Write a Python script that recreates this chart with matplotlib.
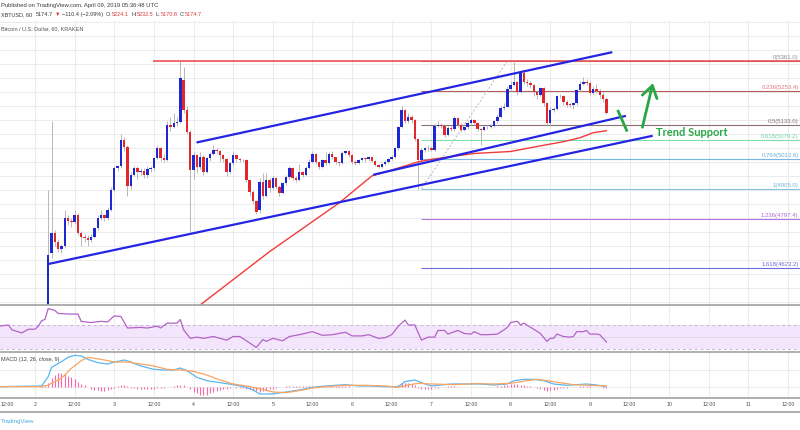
import matplotlib
matplotlib.use("Agg")
import matplotlib.pyplot as plt
import numpy as np
from matplotlib.lines import Line2D

# ---------------- data (hours counted from 2 Apr 2019 00:00 UTC) ----------------
candle_hours = list(range(4, 174))
opens = [4160, 4675, 4747, 4717, 4690, 4700, 4800, 4790, 4785, 4810,
         4747, 4735, 4730, 4723, 4735, 4764, 4800, 4810, 4800, 4830,
         4901, 4978, 4985, 5079, 5055, 4915, 4955, 4978, 4965, 4970,
         4955, 4975, 4978, 5014, 5050, 5014, 5008, 5133, 5125, 5140,
         5144, 5293, 5186, 5109, 4972, 5026, 4984, 5020, 4966, 5014,
         5028, 5044, 5038, 5026, 5010, 4966, 4996, 5026, 5010, 5008,
         5006, 4937, 4895, 4860, 4830, 4931, 4880, 4937, 4907, 4943,
         4913, 4889, 4925, 4948, 4978, 4943, 4937, 4966, 4954, 4978,
         5002, 5029, 5002, 4984, 5008, 4996, 5029, 5017, 5002, 4996,
         5034, 5038, 5026, 5002, 4998, 5008, 5014, 5010, 5017, 5005,
         4990, 4984, 4994, 5002, 5010, 5020, 5049, 5124, 5186, 5145,
         5162, 5150, 5082, 5006, 5044, 5049, 5052, 5044, 5129, 5133,
         5128, 5097, 5121, 5118, 5156, 5133, 5115, 5124, 5139, 5150,
         5139, 5117, 5115, 5124, 5127, 5129, 5145, 5162, 5192, 5198,
         5260, 5275, 5284, 5251, 5317, 5287, 5281, 5275, 5251, 5240,
         5263, 5210, 5139, 5186, 5188, 5234, 5236, 5216, 5204, 5203,
         5210, 5257, 5279, 5284, 5281, 5248, 5260, 5255, 5240, 5224.1]
highs = [4900, 5145, 4760, 4725, 4710, 4830, 4810, 4800, 4830, 4820,
         4755, 4745, 4740, 4745, 4770, 4810, 4830, 4815, 4840, 4910,
         4985, 4990, 5100, 5090, 5060, 4965, 4985, 4985, 4980, 4980,
         4985, 4988, 5020, 5060, 5055, 5030, 5145, 5160, 5175, 5160,
         5361, 5340, 5200, 5115, 5035, 5030, 5035, 5025, 5020, 5035,
         5060, 5050, 5045, 5030, 5015, 5000, 5040, 5030, 5015, 5012,
         5010, 4940, 4900, 4865, 4945, 4960, 4960, 4945, 4950, 4948,
         4918, 4930, 4955, 4985, 4982, 4950, 4995, 4970, 4985, 5010,
         5040, 5032, 5005, 5012, 5035, 5035, 5040, 5020, 5005, 5040,
         5045, 5042, 5030, 5006, 5012, 5020, 5018, 5022, 5020, 5008,
         4995, 4998, 5006, 5015, 5025, 5055, 5130, 5200, 5190, 5175,
         5168, 5155, 5085, 5050, 5055, 5060, 5058, 5135, 5145, 5140,
         5135, 5130, 5128, 5165, 5160, 5138, 5130, 5145, 5158, 5155,
         5142, 5122, 5130, 5132, 5135, 5150, 5170, 5200, 5210, 5270,
         5290, 5358, 5290, 5330, 5325, 5295, 5288, 5280, 5256, 5268,
         5268, 5215, 5195, 5195, 5240, 5242, 5240, 5220, 5210, 5215,
         5262, 5290, 5305, 5295, 5290, 5270, 5280, 5262, 5250, 5232.5]
lows = [4150, 4660, 4700, 4680, 4675, 4695, 4775, 4770, 4780, 4740,
        4700, 4715, 4700, 4715, 4730, 4760, 4795, 4790, 4795, 4825,
        4895, 4970, 4980, 5040, 4880, 4905, 4950, 4940, 4955, 4945,
        4945, 4965, 4972, 5010, 5005, 5000, 5005, 5110, 5120, 5130,
        5140, 5175, 5100, 4752, 4940, 4960, 4975, 4955, 4960, 5005,
        5025, 5030, 5000, 5000, 4950, 4960, 4990, 5000, 5000, 4999,
        4930, 4880, 4850, 4815, 4820, 4870, 4875, 4895, 4900, 4905,
        4880, 4885, 4920, 4940, 4935, 4930, 4932, 4948, 4950, 4975,
        4998, 4995, 4975, 4980, 4990, 4992, 5012, 4995, 4988, 4992,
        5030, 5020, 4995, 4990, 4995, 5004, 5002, 5005, 5000, 4985,
        4978, 4980, 4990, 4998, 5006, 5015, 5045, 5120, 5140, 5140,
        5140, 5075, 4905, 5000, 5035, 5040, 5038, 5040, 5125, 5120,
        5088, 5092, 5110, 5112, 5125, 5108, 5110, 5118, 5132, 5132,
        5110, 5060, 5110, 5118, 5120, 5125, 5140, 5158, 5185, 5195,
        5255, 5270, 5240, 5245, 5280, 5270, 5265, 5235, 5225, 5235,
        5200, 5130, 5130, 5180, 5185, 5228, 5205, 5198, 5195, 5190,
        5205, 5252, 5275, 5275, 5240, 5242, 5248, 5230, 5215, 5170.8]
closes = [4670, 4747, 4717, 4690, 4700, 4800, 4790, 4785, 4810, 4747,
          4735, 4730, 4723, 4735, 4764, 4800, 4810, 4800, 4830, 4901,
          4978, 4985, 5079, 5055, 4915, 4955, 4978, 4965, 4970, 4955,
          4975, 4978, 5014, 5050, 5014, 5008, 5133, 5125, 5140, 5144,
          5299, 5186, 5109, 4972, 5026, 4984, 5020, 4966, 5014, 5028,
          5044, 5038, 5026, 5010, 4966, 4996, 5026, 5010, 5008, 5006,
          4937, 4895, 4860, 4824, 4931, 4880, 4937, 4907, 4943, 4913,
          4889, 4925, 4948, 4978, 4943, 4937, 4966, 4954, 4978, 5002,
          5029, 5002, 4984, 5008, 4996, 5029, 5017, 5002, 4996, 5034,
          5038, 5026, 5002, 4998, 5008, 5014, 5010, 5017, 5005, 4990,
          4984, 4994, 5002, 5010, 5020, 5049, 5124, 5186, 5145, 5162,
          5150, 5082, 5006, 5044, 5049, 5052, 5044, 5129, 5133, 5128,
          5097, 5121, 5118, 5156, 5133, 5115, 5124, 5139, 5150, 5139,
          5117, 5115, 5124, 5127, 5129, 5145, 5162, 5192, 5198, 5260,
          5275, 5284, 5251, 5317, 5287, 5281, 5275, 5251, 5240, 5263,
          5210, 5139, 5186, 5188, 5234, 5236, 5216, 5204, 5203, 5210,
          5257, 5279, 5284, 5281, 5248, 5260, 5255, 5240, 5224.1, 5174.7]

ma_hours = [50, 71, 92, 102, 108, 116, 120, 133, 144, 153, 160, 165, 169, 173]
ma_values = [4491, 4681, 4854, 4951, 4972, 5001, 5010, 5031, 5038, 5058, 5073, 5087, 5105, 5112]

rsi_hours = [-11, -8, -7, -4, -2, 0, 1, 2, 3, 4, 6, 7, 10, 13, 14, 17, 20, 22, 24, 26,
             28, 32, 34, 37, 38, 40, 43, 44, 45, 47, 49, 51, 54, 58, 60, 62, 64, 67, 69, 70,
             72, 75, 77, 80, 84, 87, 90, 94, 96, 99, 101, 104, 106, 108, 110, 112, 113, 115, 117, 119,
             121, 122, 124, 125, 128, 130, 132, 133, 135, 137, 140, 142, 143, 144, 146, 147, 148, 151, 153, 155,
             156, 157, 158, 160, 162, 163, 164, 166, 167, 168, 170, 171, 173]
rsi_values = [68, 70, 62, 57, 63, 63, 68, 77, 79, 97, 94, 89, 88, 88, 76, 74, 76, 75, 85, 84,
              65, 66, 65, 68, 65, 73, 73, 79, 62, 48, 50, 48, 51, 45, 51, 51, 44, 33, 46, 43,
              48, 44, 51, 54, 59, 53, 54, 58, 52, 52, 54, 48, 49, 54, 68, 78, 70, 70, 45, 50,
              50, 61, 61, 55, 61, 56, 55, 59, 54, 54, 55, 62, 66, 74, 76, 70, 73, 63, 56, 43,
              48, 48, 55, 51, 50, 51, 59, 59, 61, 55, 55, 54, 42]

macd_hours = [-11, 2, 4, 5, 8, 10, 12, 14, 16, 19, 22, 24, 27, 29, 32, 36, 39, 42, 44, 46,
              49, 52, 56, 60, 64, 66, 68, 72, 76, 80, 84, 88, 94, 98, 102, 106, 110, 112, 115, 117,
              120, 126, 131, 135, 139, 143, 145, 148, 151, 154, 157, 161, 167, 170, 173]
macd_values = [0, 2, 30, 58, 75, 88, 94, 92, 82, 72, 68, 74, 80, 74, 62, 52, 50, 50, 56, 48,
               28, 18, 12, 6, -2, -10, -22, -22, -16, -10, -2, 2, 6, 2, 2, 0, 0, 15, 20, 12,
               2, 8, 8, 8, 5, 8, 18, 22, 22, 18, 8, 4, 8, 5, 0]
signal_hours = [-11, 2, 4, 8, 11, 14, 16, 20, 24, 28, 32, 36, 40, 44, 48, 52, 56, 60, 64, 68,
                72, 76, 80, 84, 88, 94, 100, 106, 110, 113, 116, 120, 127, 133, 139, 144, 149, 152, 155, 159,
                163, 168, 173]
signal_values = [0, 0, 5, 25, 55, 78, 88, 82, 74, 74, 68, 62, 52, 50, 46, 35, 20, 8, 2, -6,
                 -16, -18, -12, -4, 0, 4, 4, 2, -2, 5, 10, 8, 6, 9, 8, 10, 18, 22, 18, 12,
                 6, 4, 2]
hist_hours = list(range(-11, 174))
hist_values = [0, -1, -1, -1, 0, 0, 1, 0, -1, -1, 0, 0, 0, 1, 2,
               12, 25, 35, 40, 42, 38, 33, 28, 22, 15,
               9, 4, -2, -6, -9, -11, -12, -12, -11, -8,
               -4, 2, 5, 4, 1, -3, -5, -6, -6, -6,
               -6, -6, -6, -5, -4, -3, -2, 0, 2, 4,
               6, 4, 0, -8, -16, -20, -24, -25, -24, -20,
               -16, -13, -10, -8, -6, -4, -2, -3, -4, -5,
               -6, -8, -10, -14, -16, -14, -10, -8, -6, -4,
               -2, 0, 2, 3, 3, 3, 3, 3, 3, 3,
               2, 2, 2, 2, 2, 2, 2, 1, 1, 1,
               1, 1, 0, -1, -1, -1, -1, -1, -1, -1,
               -1, -1, -1, 0, 1, 3, 6, 10, 12, 11,
               9, 5, -3, -6, -8, -8, -7, -5, -3, -1,
               0, 1, 1, 1, 0, -1, -2, -2, -2, -2,
               -2, -2, -2, -2, -1, 0, 1, 2, 4, 6,
               8, 8, 7, 6, 5, 3, 1, -2, -5, -8,
               -10, -12, -11, -9, -7, -5, -4, -3, -2, -1,
               0, 1, 2, 2, 1, 0, -1, -2, -3, -5]

tick_hours = list(range(-12, 229, 12))
tick_labels = ["12:00", "2", "12:00", "3", "12:00", "4", "12:00", "5", "12:00", "6", "12:00",
               "7", "12:00", "8", "12:00", "9", "12:00", "10", "12:00", "11", "12:00"]

resistance_level = 5361
resistance_start = 35.7
channel_upper_h, channel_upper_p = [48.9, 174.8], [5070, 5392]
channel_lower_h, channel_lower_p = [102.4, 178.9], [4955, 5165]
support_h, support_p = [4.0, 187.0], [4637, 5094]
fib_low_h, fib_low = 117, 4905
fib_high_h, fib_high = 143, 5361
fib_levels = [0, 0.236, 0.5, 0.618, 0.764, 1, 1.236, 1.618]

last_close, change, change_pct = 5174.7, -110.4, -2.09
bar_open, bar_high, bar_low, bar_close = 5224.1, 5232.5, 5170.8, 5174.7

# ---------------- layout ----------------
FAM = ['Liberation Sans', 'DejaVu Sans']
plt.rcParams['font.family'] = FAM
W, H = 800, 430
fig = plt.figure(figsize=(W / 100, H / 100), dpi=100)
fig.patch.set_facecolor('white')

def rect(top, bottom):
    return [0, 1 - bottom / H, 1, (bottom - top) / H]

PX_PER_H = 79.27 / 24
X0 = 35.0
XLIM = (-X0 / PX_PER_H, (W - X0) / PX_PER_H)

def hx(px):
    return (px - X0) / PX_PER_H

ax = fig.add_axes(rect(21, 305))
ax_rsi = fig.add_axes(rect(305, 351.7))
ax_macd = fig.add_axes(rect(351.7, 398.3))
ax_time = fig.add_axes(rect(398.3, 411.7))
for a in (ax, ax_rsi, ax_macd, ax_time):
    a.set_xlim(XLIM)
    a.set_xticks([])
    a.set_yticks([])
    for s in a.spines.values():
        s.set_visible(False)

GRID = '#ececec'
for a in (ax, ax_rsi, ax_macd):
    for t in tick_hours:
        a.axvline(t, color=GRID, lw=0.75, zorder=0)

# ---------------- main price panel ----------------
ax.set_ylim(4491, 5503)
for p in range(4500, 5501, 50):
    ax.axhline(p, color=GRID, lw=0.75, zorder=0)

FIB_COLORS = ['#8c8c8c', '#b25d5d', '#8a7070', '#7fdcab', '#79b5e2', '#86c4e4', '#b374e2', '#6c6cd9']
FIB_TEXT = ['#8c8c8c', '#e07a7a', '#8a6a78', '#6fd6a0', '#6aaee0', '#6ab8e0', '#b06ad8', '#6c6cd9']
rng = fib_high - fib_low
lab_x = hx(798.5)
for lv, lc, tc in zip(fib_levels, FIB_COLORS, FIB_TEXT):
    price = fib_high - lv * rng
    ax.hlines(price, fib_low_h, XLIM[1], color=lc, lw=0.8, zorder=1)
    ax.annotate(f"{lv:g}({price:.1f})", xy=(lab_x, price), xytext=(0, 0.6),
                textcoords='offset points', ha='right', va='bottom', fontsize=4.3, color=tc,
                annotation_clip=False)
ax.plot([fib_low_h, fib_high_h], [fib_low, fib_high], color='#b4b4b4', lw=0.7,
        ls=(0, (2, 2)), zorder=1)

ax.hlines(resistance_level, resistance_start, XLIM[1], color='#ef5050', lw=1.2, zorder=4)

x = np.array(candle_hours)
o = np.array(opens); c = np.array(closes)
hi = np.array(highs); lo = np.array(lows)
up = c >= o
ax.vlines(x, lo, hi, color='#b8b8b8', lw=0.7, zorder=2)
ax.bar(x, np.maximum(np.abs(c - o), 3.0), bottom=np.minimum(o, c), width=0.74,
       color=np.where(up, '#1e28d2', '#e2262a'), linewidth=0, zorder=3)

ax.plot(ma_hours, ma_values, color='#f23a3a', lw=1.0, zorder=4)

BLUE = '#2424e4'
for hh, pp in ((channel_upper_h, channel_upper_p), (channel_lower_h, channel_lower_p),
               (support_h, support_p)):
    ax.plot(hh, pp, color=BLUE, lw=1.6, solid_capstyle='butt', zorder=5)

G = '#28a745'
ax.plot([176.4, 179.3], [5186, 5109], color=G, lw=2.0, solid_capstyle='butt', zorder=6)
ax.annotate('', xy=(187.1, 5282), xytext=(183.9, 5124.5),
            arrowprops=dict(arrowstyle='->,head_length=0.7,head_width=0.45', color=G, lw=2.0,
                            mutation_scale=12, shrinkA=0, shrinkB=0), zorder=6)
ax.text(188.1, 5106, 'Trend Support', color=G, fontsize=8, fontweight='bold',
        family=['Lato', 'DejaVu Sans'], va='center', ha='left', zorder=6)

# ---------------- RSI panel ----------------
ax_rsi.set_ylim(26, 102.9)
ax_rsi.axhspan(30, 70, color='#f3e6fc', lw=0, zorder=0)
ax_rsi.axhline(50, color='#e2d6ea', lw=0.7, zorder=0)
for lvl in (70, 30):
    ax_rsi.axhline(lvl, color='#c9b2d9', lw=0.7, ls=(0, (3, 3)), zorder=1)
ax_rsi.plot(rsi_hours, rsi_values, color='#b263c6', lw=0.9, zorder=3)

# ---------------- MACD panel ----------------
ax_macd.set_ylim(-35, 105)
for lvl in (0, 50):
    ax_macd.axhline(lvl, color=GRID, lw=0.75, zorder=0)
ax_macd.vlines(hist_hours, 0, hist_values, color='#f56aa5', lw=0.8, zorder=2)
ax_macd.plot(macd_hours, macd_values, color='#5ab6f2', lw=0.9, zorder=3)
ax_macd.plot(signal_hours, signal_values, color='#f7a563', lw=0.9, zorder=3)
ax_macd.text(1.0 / W, 1 - (360 - 351.7) / (398.3 - 351.7), 'MACD (12, 26, close, 9)',
             transform=ax_macd.transAxes, ha='left', va='center', fontsize=4.0, color='#444444')

# ---------------- time axis ----------------
tr = ax_time.get_xaxis_transform()
for t, lab in zip(tick_hours, tick_labels):
    left_edge = t < XLIM[0] + 3
    ax_time.text(XLIM[0] + 0.15 if left_edge else t, 0.5, lab, transform=tr,
                 ha='left' if left_edge else 'center', va='center', fontsize=3.8,
                 color='#4d4d4d', clip_on=False)

for ypx in (305, 351.7, 398.3, 411.7):
    fig.add_artist(Line2D([0, 1], [1 - ypx / H] * 2, color='#a8a8a8', lw=1.3))

# ---------------- header / footer ----------------
DARK = '#3a3a3a'
RED = '#e0393a'
fig.text(1.0 / W, 1 - 6 / H, 'Published on TradingView.com, April 09, 2019 05:36:48 UTC',
         ha='left', va='center', fontsize=4.2, color=DARK)
renderer = fig.canvas.get_renderer()
parts = [("XBTUSD, 60", DARK, 3.5), (f"{last_close:.1f}", DARK, 2.5), ("\u25bc", RED, 1.5),
         (f"\u2212{abs(change):.1f} (\u2212{abs(change_pct):.2f}%)", DARK, 2.5),
         ("O:", DARK, 0), (f"{bar_open:.1f}", RED, 2.5),
         ("H:", DARK, 0), (f"{bar_high:.1f}", RED, 2.5),
         ("L:", DARK, 0), (f"{bar_low:.1f}", RED, 2.5),
         ("C:", DARK, 0), (f"{bar_close:.1f}", RED, 0)]
xp = 1.0
for s, col, gap in parts:
    t = fig.text(xp / W, 1 - 14.7 / H, s, ha='left', va='center', fontsize=4.0, color=col)
    bb = t.get_window_extent(renderer)
    xp = bb.x1 + gap
fig.text(1.0 / W, 1 - 29 / H, 'Bitcoin / U.S. Dollar, 60, KRAKEN', ha='left', va='center',
         fontsize=4.0, color='#555555')
fig.text(1.0 / W, 1 - 422 / H, 'TradingView', ha='left', va='center', fontsize=4.4,
         color='#4aa8e2')

fig.savefig('out.png', dpi=100, facecolor='white')
